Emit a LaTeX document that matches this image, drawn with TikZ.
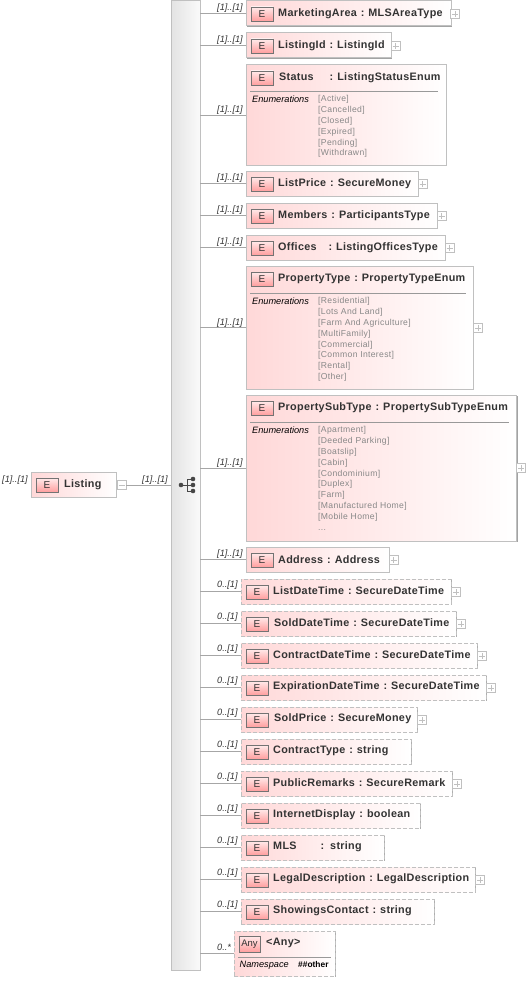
\documentclass[tikz,border=0pt]{standalone}
\usepackage{fontspec}
\setmainfont{Liberation Sans}
\usetikzlibrary{shadows}
\definecolor{edgegrey}{HTML}{C0C0C0}
\definecolor{inkgrey}{HTML}{333333}
\definecolor{enumgrey}{HTML}{888888}
\definecolor{pinkfill}{HTML}{FFD8D8}
\tikzset{
  elembox/.style={draw=edgegrey, line width=1pt, anchor=north west, inner sep=0pt, outer sep=0pt, minimum height=25pt, left color=pinkfill, right color=white, drop shadow={shadow xshift=1pt, shadow yshift=-1pt, fill=black!45, opacity=0.8}},
  optbox/.style={elembox, dashed, dash pattern=on 4pt off 2pt},
  badge/.style={draw=black!55, line width=0.8pt, anchor=north west, inner sep=0pt, outer sep=0pt, minimum width=22pt, minimum height=14pt, top color=red!8, bottom color=red!38, text=inkgrey, font=\fontsize{10}{12}\selectfont},
  titletext/.style={anchor=west, inner sep=0pt, text=inkgrey, font=\fontsize{10.8}{12}\bfseries\selectfont\addfontfeature{LetterSpace=2.8}},
  cardtext/.style={anchor=west, inner sep=0pt, text=inkgrey, font=\fontsize{9.2}{10}\itshape\selectfont},
  enumhead/.style={anchor=west, inner sep=0pt, text=black, font=\fontsize{9.2}{10}\itshape\selectfont},
  enumtext/.style={anchor=north west, inner sep=0pt, align=left, text=enumgrey, font=\fontsize{8.6}{10.9}\selectfont\addfontfeature{LetterSpace=4}},
  plusbox/.style={draw=edgegrey, line width=0.7pt, fill=white, inner sep=0pt, outer sep=0pt, minimum size=9pt, path picture={\draw[edgegrey, line width=0.7pt] ([xshift=-3pt]path picture bounding box.center) -- ([xshift=3pt]path picture bounding box.center) ([yshift=-3pt]path picture bounding box.center) -- ([yshift=3pt]path picture bounding box.center);}},
  minusbox/.style={draw=edgegrey, line width=0.7pt, fill=white, inner sep=0pt, outer sep=0pt, minimum size=9pt, path picture={\draw[edgegrey, line width=0.7pt] ([xshift=-3pt]path picture bounding box.center) -- ([xshift=3pt]path picture bounding box.center);}},
  conn/.style={draw=black!35, line width=0.8pt},
  seqdot/.style={circle, fill=black!72, inner sep=0pt, outer sep=0pt, minimum size=4.6pt},
}
\begin{document}
\begin{tikzpicture}[x=1pt,y=-1pt]
\useasboundingbox (0,0) rectangle (526,982);
% sequence spine and root
\node[draw=edgegrey, line width=1pt, anchor=north west, inner sep=0pt, outer sep=0pt, minimum width=29pt, minimum height=969pt, left color=black!11, right color=black!2, drop shadow={shadow xshift=1pt, shadow yshift=-1pt, fill=black!45, opacity=0.8}] (spine) at (171,1) {};
\node[elembox, minimum width=85pt] (listing) at (31,472) {};
\node[badge] (listingE) at (36,478) {E};
\node[titletext] (listingT) at (64,485) {Listing};
\node[cardtext] (listingC) at (2,480) {[1]..[1]};
\node[minusbox] (listingM) at (121.5,485) {};
\node[cardtext] (listingL) at (142,480) {[1]..[1]};
\draw[conn] (listingM) -- (listingM -| spine.west);
% sequence icon
\node[seqdot] (seqa) at (181,485) {};
\node[seqdot] (seqb) at (193,479) {};
\node[seqdot] (seqc) at (193,485) {};
\node[seqdot] (seqd) at (193,491) {};
\draw[black!72, line width=0.9pt] (seqa) -- (seqc) (seqb) -- (187,479) -- (187,491) -- (seqd);
% required children
\node[elembox, minimum width=205pt] (marketing) at (246,1) {};
\node[badge] (marketingE) at (251,7) {E};
\node[titletext] (marketingT) at (278,13.5) {MarketingArea\hspace{4pt}:\hspace{4pt}MLSAreaType};
\node[cardtext] (marketingC) at (217,8) {[1]..[1]};
\node[plusbox] (marketingP) at (455,14) {};
\draw[conn] (marketing) -- (marketing -| spine.east);

\node[elembox, minimum width=145pt] (listingid) at (246,33) {};
\node[badge] (listingidE) at (251,39) {E};
\node[titletext] (listingidT) at (278,45.5) {ListingId\hspace{4pt}:\hspace{4pt}ListingId};
\node[cardtext] (listingidC) at (217,40) {[1]..[1]};
\node[plusbox] (listingidP) at (395.5,46) {};
\draw[conn] (listingid) -- (listingid -| spine.east);

\node[elembox, minimum width=200pt, minimum height=100pt] (status) at (246,65) {};
\node[badge] (statusE) at (251,71) {E};
\node[titletext] (statusT) at (279,77.5) {Status\hspace{16pt}:\hspace{4pt}ListingStatusEnum};
\draw[black!40, line width=0.7pt] (250,91) -- (438,91);
\node[enumhead] (statusH) at (252,99) {Enumerations};
\node[enumtext] (statusV) at (318,95) {{[Active]}\\{[Cancelled]}\\{[Closed]}\\{[Expired]}\\{[Pending]}\\{[Withdrawn]}};
\node[cardtext] (statusC) at (217,110) {[1]..[1]};
\draw[conn] (status) -- (status -| spine.east);

\node[elembox, minimum width=172pt] (listprice) at (246,171) {};
\node[badge] (listpriceE) at (251,177) {E};
\node[titletext] (listpriceT) at (278,183.5) {ListPrice\hspace{4pt}:\hspace{4pt}SecureMoney};
\node[cardtext] (listpriceC) at (217,178) {[1]..[1]};
\node[plusbox] (listpriceP) at (422.5,184) {};
\draw[conn] (listprice) -- (listprice -| spine.east);

\node[elembox, minimum width=191pt] (members) at (246,203) {};
\node[badge] (membersE) at (251,209) {E};
\node[titletext] (membersT) at (278,215.5) {Members\hspace{4pt}:\hspace{4pt}ParticipantsType};
\node[cardtext] (membersC) at (217,210) {[1]..[1]};
\node[plusbox] (membersP) at (441.5,216) {};
\draw[conn] (members) -- (members -| spine.east);

\node[elembox, minimum width=199pt] (offices) at (246,235) {};
\node[badge] (officesE) at (251,241) {E};
\node[titletext] (officesT) at (278,247.5) {Offices\hspace{12pt}:\hspace{4pt}ListingOfficesType};
\node[cardtext] (officesC) at (217,242) {[1]..[1]};
\node[plusbox] (officesP) at (449.5,248) {};
\draw[conn] (offices) -- (offices -| spine.east);

\node[elembox, minimum width=227pt, minimum height=123pt] (proptype) at (246,266) {};
\node[badge] (proptypeE) at (251,272) {E};
\node[titletext] (proptypeT) at (278,278.5) {PropertyType\hspace{4pt}:\hspace{4pt}PropertyTypeEnum};
\draw[black!40, line width=0.7pt] (250,293) -- (466,293);
\node[enumhead] (proptypeH) at (252,301) {Enumerations};
\node[enumtext] (proptypeV) at (318,297) {{[Residential]}\\{[Lots And Land]}\\{[Farm And Agriculture]}\\{[MultiFamily]}\\{[Commercial]}\\{[Common Interest]}\\{[Rental]}\\{[Other]}};
\node[cardtext] (proptypeC) at (217,323) {[1]..[1]};
\node[plusbox] (proptypeP) at (478,328) {};
\draw[conn] (proptype) -- (proptype -| spine.east);

\node[elembox, minimum width=270.5pt, minimum height=146pt] (propsub) at (246,395) {};
\node[badge] (propsubE) at (251,401) {E};
\node[titletext] (propsubT) at (278,407.5) {PropertySubType\hspace{4pt}:\hspace{4pt}PropertySubTypeEnum};
\draw[black!40, line width=0.7pt] (250,422) -- (509,422);
\node[enumhead] (propsubH) at (252,430) {Enumerations};
\node[enumtext] (propsubV) at (318,426) {{[Apartment]}\\{[Deeded Parking]}\\{[Boatslip]}\\{[Cabin]}\\{[Condominium]}\\{[Duplex]}\\{[Farm]}\\{[Manufactured Home]}\\{[Mobile Home]}\\...};
\node[cardtext] (propsubC) at (217,463) {[1]..[1]};
\node[plusbox] (propsubP) at (521,468) {};
\draw[conn] (propsub) -- (propsub -| spine.east);

\node[elembox, minimum width=143pt] (address) at (246,547) {};
\node[badge] (addressE) at (251,553) {E};
\node[titletext] (addressT) at (278,559.5) {Address\hspace{4pt}:\hspace{4pt}Address};
\node[cardtext] (addressC) at (217,554) {[1]..[1]};
\node[plusbox] (addressP) at (393.5,560) {};
\draw[conn] (address) -- (address -| spine.east);
% optional children
\node[optbox, minimum width=210pt] (listdate) at (241,579) {};
\node[badge] (listdateE) at (246,585) {E};
\node[titletext] (listdateT) at (273,590.5) {ListDateTime\hspace{4pt}:\hspace{4pt}SecureDateTime};
\node[cardtext] (listdateC) at (217,585) {0..[1]};
\node[plusbox] (listdateP) at (456,592) {};
\draw[conn] (listdate) -- (listdate -| spine.east);

\node[optbox, minimum width=215pt] (solddate) at (241,611) {};
\node[badge] (solddateE) at (246,617) {E};
\node[titletext] (solddateT) at (274,622.5) {SoldDateTime\hspace{4pt}:\hspace{4pt}SecureDateTime};
\node[cardtext] (solddateC) at (217,617) {0..[1]};
\node[plusbox] (solddateP) at (461,624) {};
\draw[conn] (solddate) -- (solddate -| spine.east);

\node[optbox, minimum width=236pt] (contractdate) at (241,643) {};
\node[badge] (contractdateE) at (246,649) {E};
\node[titletext] (contractdateT) at (273,654.5) {ContractDateTime\hspace{4pt}:\hspace{4pt}SecureDateTime};
\node[cardtext] (contractdateC) at (217,649) {0..[1]};
\node[plusbox] (contractdateP) at (482,656) {};
\draw[conn] (contractdate) -- (contractdate -| spine.east);

\node[optbox, minimum width=245pt] (expiration) at (241,675) {};
\node[badge] (expirationE) at (246,681) {E};
\node[titletext] (expirationT) at (273,686.5) {ExpirationDateTime\hspace{4pt}:\hspace{4pt}SecureDateTime};
\node[cardtext] (expirationC) at (217,681) {0..[1]};
\node[plusbox] (expirationP) at (491,688) {};
\draw[conn] (expiration) -- (expiration -| spine.east);

\node[optbox, minimum width=176pt] (soldprice) at (241,707) {};
\node[badge] (soldpriceE) at (246,713) {E};
\node[titletext] (soldpriceT) at (274,718.5) {SoldPrice\hspace{4pt}:\hspace{4pt}SecureMoney};
\node[cardtext] (soldpriceC) at (217,713) {0..[1]};
\node[plusbox] (soldpriceP) at (422,720) {};
\draw[conn] (soldprice) -- (soldprice -| spine.east);

\node[optbox, minimum width=170pt] (contracttype) at (241,739) {};
\node[badge] (contracttypeE) at (246,745) {E};
\node[titletext] (contracttypeT) at (273,750.5) {ContractType\hspace{4pt}:\hspace{4pt}string};
\node[cardtext] (contracttypeC) at (217,745) {0..[1]};
\draw[conn] (contracttype) -- (contracttype -| spine.east);

\node[optbox, minimum width=211pt] (remarks) at (241,771) {};
\node[badge] (remarksE) at (246,777) {E};
\node[titletext] (remarksT) at (273,782.5) {PublicRemarks\hspace{4pt}:\hspace{4pt}SecureRemark};
\node[cardtext] (remarksC) at (217,777) {0..[1]};
\node[plusbox] (remarksP) at (457,784) {};
\draw[conn] (remarks) -- (remarks -| spine.east);

\node[optbox, minimum width=179pt] (internet) at (241,803) {};
\node[badge] (internetE) at (246,809) {E};
\node[titletext] (internetT) at (273,814.5) {InternetDisplay\hspace{4pt}:\hspace{4pt}boolean};
\node[cardtext] (internetC) at (217,809) {0..[1]};
\draw[conn] (internet) -- (internet -| spine.east);

\node[optbox, minimum width=143pt] (mls) at (241,835) {};
\node[badge] (mlsE) at (246,841) {E};
\node[titletext] (mlsT) at (273,846.5) {MLS\hspace{24pt}:\hspace{6pt}string};
\node[cardtext] (mlsC) at (217,841) {0..[1]};
\draw[conn] (mls) -- (mls -| spine.east);

\node[optbox, minimum width=234pt] (legal) at (241,867) {};
\node[badge] (legalE) at (246,873) {E};
\node[titletext] (legalT) at (273,878.5) {LegalDescription\hspace{4pt}:\hspace{4pt}LegalDescription};
\node[cardtext] (legalC) at (217,873) {0..[1]};
\node[plusbox] (legalP) at (480,880) {};
\draw[conn] (legal) -- (legal -| spine.east);

\node[optbox, minimum width=193pt] (showings) at (241,899) {};
\node[badge] (showingsE) at (246,905) {E};
\node[titletext] (showingsT) at (273,910.5) {ShowingsContact\hspace{4pt}:\hspace{4pt}string};
\node[cardtext] (showingsC) at (217,905) {0..[1]};
\draw[conn] (showings) -- (showings -| spine.east);
% wildcard
\node[optbox, minimum width=101pt, minimum height=45pt] (anyel) at (234,931) {};
\node[badge, minimum width=21pt, minimum height=16pt, font=\fontsize{9.5}{12}\selectfont] (anyelE) at (239,936) {Any};
\node[titletext] (anyelT) at (266,942.5) {<Any>};
\draw[black!40, line width=0.7pt] (238,957.5) -- (331,957.5);
\node[enumhead] (anyelH) at (239.5,965.5) {Namespace};
\node[enumhead, font=\fontsize{8.4}{10}\bfseries\selectfont] (anyelV) at (298,964.5) {\#\#other};
\node[cardtext] (anyelC) at (217,947) {0..*};
\draw[conn] (anyel) -- (anyel -| spine.east);
\end{tikzpicture}
\end{document}
